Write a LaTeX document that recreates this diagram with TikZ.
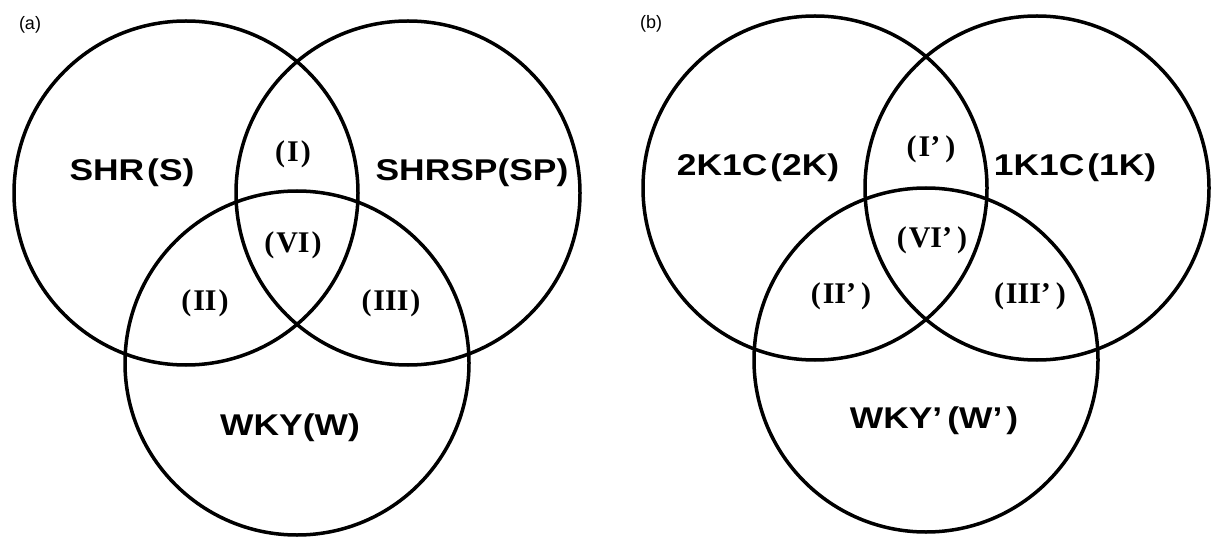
\documentclass[tikz,border=0pt]{standalone}
\usepackage{fontspec}
\setmainfont{Liberation Serif}
\setsansfont{Liberation Sans}
\newfontfamily\namefam[FakeStretch=1.18]{Liberation Sans}
\newcommand\namefont{\namefam\bfseries\fontsize{30}{32}\selectfont}
\newcommand\numfont{\rmfamily\bfseries\fontsize{30}{32}\selectfont}
\newcommand\panelfont{\sffamily\fontsize{18}{20}\selectfont}
\newcommand\rn[1]{(\kern2pt#1\kern2pt)}
\newcommand\rnp[1]{(\kern2pt#1’\kern5pt)}
\tikzset{
  ring/.style={circle, draw, line width=3.5pt, minimum size=344pt, inner sep=0pt},
  setname/.style={font=\namefont, inner sep=0pt},
  region/.style={font=\numfont, inner sep=0pt},
  panel/.style={font=\panelfont, inner sep=0pt}
}
\begin{document}
\begin{tikzpicture}[x=1pt,y=-1pt]
\useasboundingbox (0,0) rectangle (1212,537);
% panel (a)
\node[panel] (la) at (30,25) {(a)};
\node[ring] (S)  at (186,193) {};
\node[ring] (SP) at (408,193) {};
\node[ring] (W)  at (297,363) {};
\node[setname] (tS)  at (132,173) {SHR\kern3pt(S)};
\node[setname] (tSP) at (472,173) {SHRSP(SP)};
\node[setname] (tW)  at (290,428) {WKY(W)};
\node[region] (r1) at (293,154) {\rn{I}};
\node[region] (r6) at (293,245) {\rn{VI}};
\node[region] (r2) at (205,303) {\rn{II}};
\node[region] (r3) at (391,303) {\rn{III}};
% panel (b)
\node[panel] (lb) at (651,24) {(b)};
\node[ring] (K2) at (815,188) {};
\node[ring] (K1) at (1037,188) {};
\node[ring] (Wp) at (926,360) {};
\node[setname] (tK2) at (758,168) {2K1C\kern3pt(2K)};
\node[setname] (tK1) at (1075,168) {1K1C\kern3pt(1K)};
\node[setname] (tWp) at (934,421) {WKY’\kern5pt(W’\kern4pt)};
\node[region] (p1) at (931,149) {\rnp{I}};
\node[region] (p6) at (932,240) {\rnp{VI}};
\node[region] (p2) at (841,296) {\rnp{II}};
\node[region] (p3) at (1030,296) {\rnp{III}};
\end{tikzpicture}
\end{document}
